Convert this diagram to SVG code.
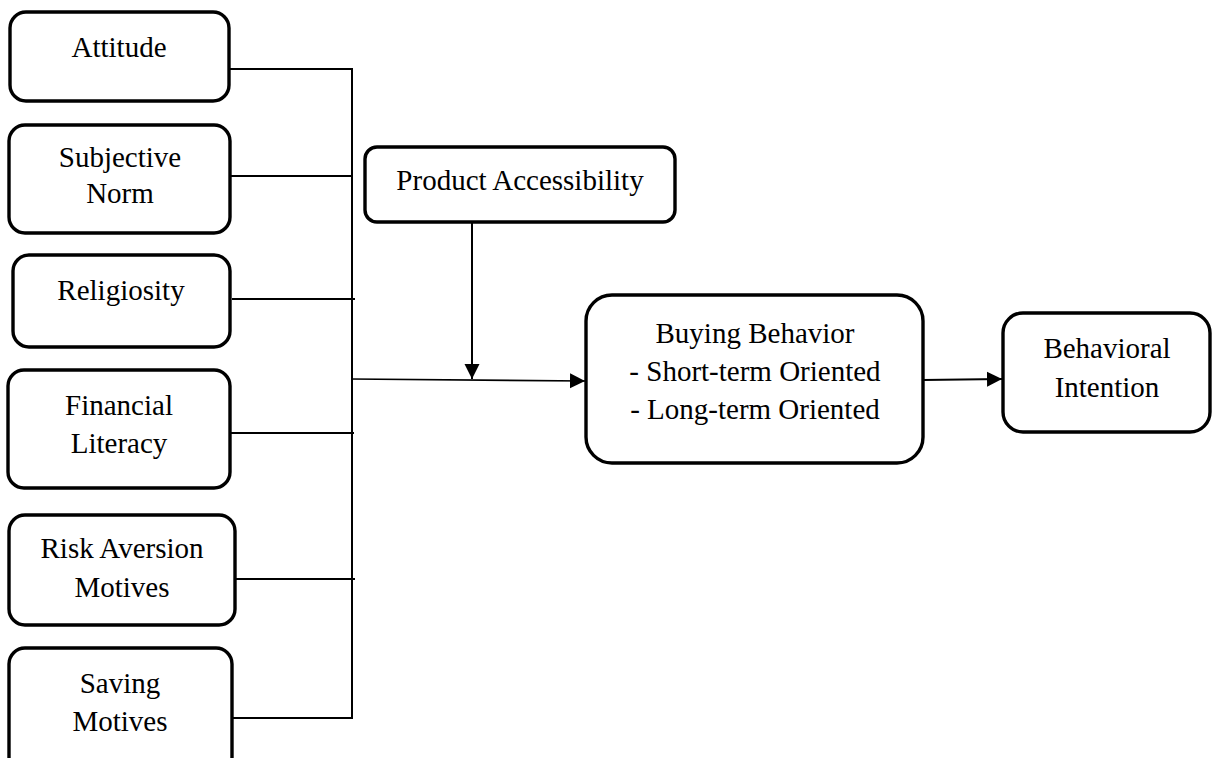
<svg xmlns="http://www.w3.org/2000/svg" width="1213" height="758" viewBox="0 0 1213 758">
<style>
.box{fill:#fff;stroke:#000;stroke-width:3.4}
.t{font-family:"Liberation Serif","Times New Roman",serif;font-size:29px;fill:#000;text-anchor:middle}
.ln{stroke:#000;stroke-width:2;fill:none}
.thin{stroke:#000;stroke-width:1.6;fill:none}
</style>
<defs>
<marker id="ah" markerUnits="userSpaceOnUse" markerWidth="16" markerHeight="16" refX="15" refY="8" orient="auto">
<path d="M0,0.5 L15,8 L0,15.5 Z" fill="#000"/>
</marker>
</defs>
<rect width="1213" height="758" fill="#fff"/>
<g id="connectors">
<line class="ln" x1="352" y1="68" x2="352" y2="719"/>
<line class="ln" x1="229" y1="69" x2="353" y2="69"/>
<line class="ln" x1="230" y1="176" x2="353" y2="176"/>
<line class="ln" x1="232" y1="299" x2="355" y2="299"/>
<line class="ln" x1="230" y1="433" x2="354" y2="433"/>
<line class="ln" x1="235" y1="579" x2="355" y2="579"/>
<line class="ln" x1="232" y1="718" x2="353" y2="718"/>
<line class="thin" x1="351" y1="379" x2="585" y2="381" marker-end="url(#ah)"/>
<line class="ln" x1="472" y1="222" x2="472" y2="379" marker-end="url(#ah)"/>
<line class="ln" x1="923" y1="380" x2="1002" y2="379" marker-end="url(#ah)"/>
</g>
<g id="attitude">
<rect class="box" x="10" y="12" width="219" height="89" rx="16"/>
<text class="t" x="119" y="57">Attitude</text>
</g>
<g id="subjective-norm">
<rect class="box" x="9" y="125" width="221" height="108" rx="16"/>
<text class="t" x="120" y="167">Subjective</text>
<text class="t" x="120" y="203">Norm</text>
</g>
<g id="religiosity">
<rect class="box" x="13" y="255" width="217" height="92" rx="16"/>
<text class="t" x="121" y="300">Religiosity</text>
</g>
<g id="financial-literacy">
<rect class="box" x="8" y="370" width="222" height="118" rx="16"/>
<text class="t" x="119" y="415">Financial</text>
<text class="t" x="119" y="453">Literacy</text>
</g>
<g id="risk-aversion">
<rect class="box" x="9" y="515" width="226" height="110" rx="16"/>
<text class="t" x="122" y="558">Risk Aversion</text>
<text class="t" x="122" y="597">Motives</text>
</g>
<g id="saving-motives">
<rect class="box" x="9" y="648" width="223" height="125" rx="16"/>
<text class="t" x="120" y="693">Saving</text>
<text class="t" x="120" y="731">Motives</text>
</g>
<g id="product-accessibility">
<rect class="box" x="365" y="147" width="310" height="75" rx="12"/>
<text class="t" x="520" y="190">Product Accessibility</text>
</g>
<g id="buying-behavior">
<rect class="box" x="586" y="295" width="337" height="168" rx="26"/>
<text class="t" x="755" y="343">Buying Behavior</text>
<text class="t" x="755" y="381">- Short-term Oriented</text>
<text class="t" x="755" y="419">- Long-term Oriented</text>
</g>
<g id="behavioral-intention">
<rect class="box" x="1003" y="313" width="207" height="119" rx="20"/>
<text class="t" x="1107" y="358">Behavioral</text>
<text class="t" x="1107" y="397">Intention</text>
</g>
</svg>
